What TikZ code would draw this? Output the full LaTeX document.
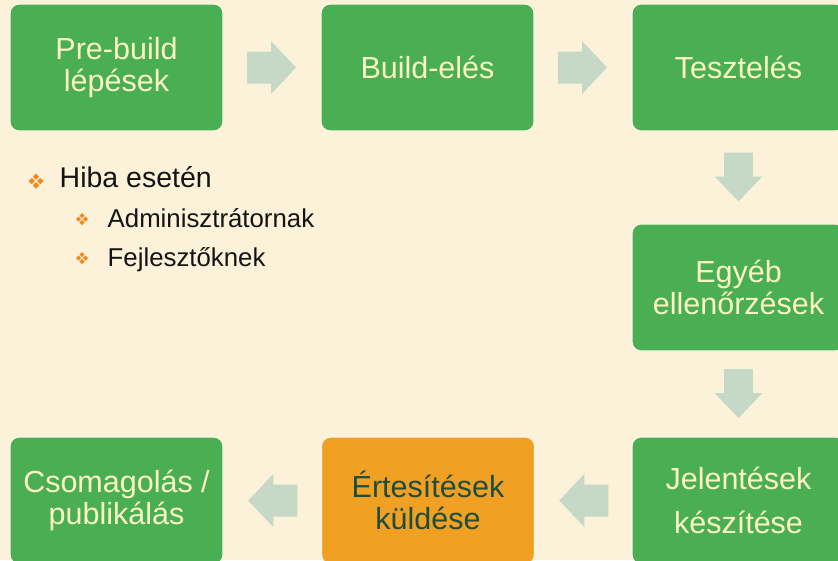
\documentclass[tikz,border=0pt]{standalone}
\usepackage{fontspec}
\setmainfont{Liberation Sans}
\usetikzlibrary{calc}

\definecolor{paper}{HTML}{FBF2D9}
\definecolor{stepgreen}{HTML}{4AAF52}
\definecolor{steporange}{HTML}{F0A022}
\definecolor{flowarrow}{HTML}{C6D9C6}
\definecolor{boxtext}{HTML}{FBF4C6}
\definecolor{darktext}{HTML}{1E4D40}
\definecolor{bulletorange}{HTML}{F08A1E}

\tikzset{
  stepbox/.style={rectangle, rounded corners=9pt, minimum width=213pt,
    minimum height=127pt, inner sep=0pt, fill=stepgreen, draw=paper!60!white,
    line width=1.2pt, text=boxtext, align=center,
    font=\fontsize{30.5}{32}\selectfont},
  alertbox/.style={stepbox, fill=steporange, text=darktext},
  % block arrow pointing along +x, centred on the pic origin
  flowarrow/.pic={
    \fill[flowarrow] (-25,-16) -- (-1,-16) -- (-1,-26.5) -- (24,0)
      -- (-1,26.5) -- (-1,16) -- (-25,16) -- cycle;
  },
  fourdiam/.pic={
    \foreach \dx/\dy in {1/0,-1/0,0/1,0/-1}
      \fill[bulletorange] ({\dx*4.3},{\dy*4.3}) +(3.2,0) -- +(0,3.2) -- +(-3.2,0) -- +(0,-3.2) -- cycle;
  },
}

\begin{document}
\begin{tikzpicture}[x=1pt,y=-1pt]
  \fill[paper] (0,0) rectangle (838,560);
  \useasboundingbox (0,0) rectangle (838,560);

  % process steps
  \node[stepbox] (prebuild) at (116.5,67.5) {Pre-build\\lépések};
  \node[stepbox] (build)    at (427.5,67.5) {Build-elés};
  \node[stepbox] (test)     at (738.5,67.5) {Tesztelés};
  \node[stepbox] (checks)   at (738.5,287.5) {Egyéb\\ellenőrzések};
  \node[stepbox] (reports)  at (738.5,500.5) {Jelentések\\[12pt]készítése};
  \node[alertbox] (notify)  at (428,500.5) {Értesítések\\küldése};
  \node[stepbox] (package)  at (116.5,500.5) {Csomagolás /\\publikálás};

  % flow arrows between the steps
  \pic at ($(prebuild.east)!0.5!(build.west)$) {flowarrow};
  \pic at ($(build.east)!0.5!(test.west)$) {flowarrow};
  \pic[rotate=-90, yscale=0.9] at ($(test.south)!0.5!(checks.north)$) {flowarrow};
  \pic[rotate=-90, yscale=0.9] at ($(checks.south)!0.5!(reports.north)$) {flowarrow};
  \pic[rotate=180] at ($(reports.west)!0.5!(notify.east)$) {flowarrow};
  \pic[rotate=180] at ($(notify.west)!0.5!(package.east)$) {flowarrow};

  % error handling notes
  \pic at (36,181) {fourdiam};
  \node[anchor=base west, inner sep=0pt, text=black!92,
        font=\fontsize{28.5}{30}\selectfont] (err) at (59.5,187) {Hiba esetén};
  \pic[scale=0.8] at (82,219) {fourdiam};
  \node[anchor=base west, inner sep=0pt, text=black!92,
        font=\fontsize{25.8}{28}\selectfont] (admins) at (107.5,227) {Adminisztrátornak};
  \pic[scale=0.8] at (82,258) {fourdiam};
  \node[anchor=base west, inner sep=0pt, text=black!92,
        font=\fontsize{25.8}{28}\selectfont] (devs) at (107.5,266) {Fejlesztőknek};
\end{tikzpicture}
\end{document}
